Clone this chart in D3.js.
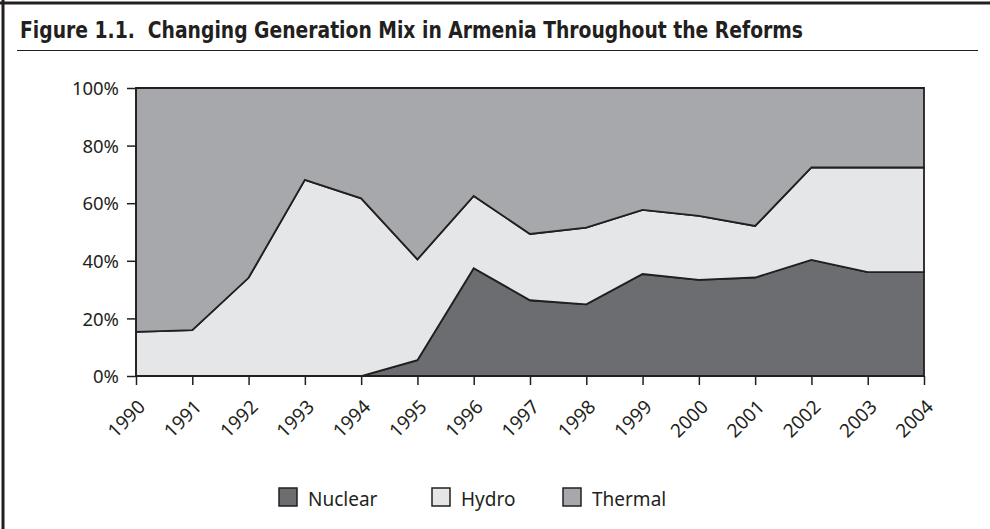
<!DOCTYPE html>
<html>
<head>
<meta charset="utf-8">
<script src="https://cdn.jsdelivr.net/npm/d3@7"></script>
<style>
  body { margin: 0; background: #fff; }
  text { font-family: "Noto Sans", "Open Sans", sans-serif; fill: #231f20; }
</style>
</head>
<body>
<div id="chart"></div>
<script>
// data (shares in %)
let years = [1990, 1991, 1992, 1993, 1994, 1995, 1996, 1997, 1998, 1999, 2000, 2001, 2002, 2003, 2004]
let nuclear = [0, 0, 0, 0, 0, 5.5, 37.4, 26.3, 24.9, 35.4, 33.4, 34.2, 40.3, 36.1, 36.1]
let hydro = [15.3, 15.9, 34.1, 68.1, 61.7, 35.0, 25.1, 23.0, 26.6, 22.3, 22.2, 17.9, 32.1, 36.3, 36.3]
let thermal = [84.7, 84.1, 65.9, 31.9, 38.3, 59.5, 37.5, 50.7, 48.5, 42.3, 44.4, 47.9, 27.6, 27.6, 27.6]
let yTicks = [0, 20, 40, 60, 80, 100]
let seriesNames = ["Nuclear", "Hydro", "Thermal"]
let seriesColors = ["#6c6d71", "#e5e6e8", "#a7a8ac"]

let width = 990, height = 529
let ink = "#231f20"

let svg = d3.select("#chart")
    .append("svg")
        .attr("width", width)
        .attr("height", height)

// frame: top and left rules only
svg.append("line").attr("x1", 0).attr("x2", width).attr("y1", 3).attr("y2", 3)
    .attr("stroke", ink).attr("stroke-width", 3)
svg.append("line").attr("x1", 3).attr("x2", 3).attr("y1", 0).attr("y2", height)
    .attr("stroke", ink).attr("stroke-width", 3)

// title + rule under it
svg.append("text")
    .attr("x", 20)
    .attr("y", 38)
    .attr("textLength", 783)
    .attr("lengthAdjust", "spacingAndGlyphs")
    .style("white-space", "pre")
    .style("font-family", "'Liberation Sans Narrow', 'DejaVu Sans Condensed', sans-serif")
    .style("font-size", "23px")
    .style("font-weight", "bold")
    .text("Figure 1.1.  Changing Generation Mix in Armenia Throughout the Reforms")
svg.append("line").attr("x1", 17).attr("x2", 978).attr("y1", 50.5).attr("y2", 50.5)
    .attr("stroke", ink).attr("stroke-width", 1.2)

// scales
let x = d3.scaleLinear().domain([1990, 2004]).range([136, 924])
let y = d3.scaleLinear().domain([0, 100]).range([376, 88])

let table = years.map((yr, i) => ({year: yr, Nuclear: nuclear[i], Hydro: hydro[i], Thermal: thermal[i]}))
let stacked = d3.stack().keys(seriesNames)(table)

let area = d3.area()
    .x(d => x(d.data.year))
    .y0(d => y(d[0]))
    .y1(d => y(d[1]))

svg.append("g").selectAll("path")
    .data(stacked)
    .enter()
    .append("path")
    .attr("d", area)
    .attr("fill", (d, i) => seriesColors[i])
    .attr("stroke", ink)
    .attr("stroke-width", 1.8)
    .attr("stroke-linejoin", "miter")

// y axis
let yAxis = svg.append("g")
    .attr("transform", "translate(136,0)")
    .call(d3.axisLeft(y).tickValues(yTicks).tickSize(9).tickFormat(d => d + "%"))
yAxis.selectAll("path, line").attr("stroke", ink).attr("stroke-width", 1.5)
yAxis.select(".domain").attr("d", "M0,88V376")
yAxis.selectAll("text")
    .attr("x", -17)
    .attr("dy", "0.36em")
    .style("font-size", "18.5px")
    .attr("fill", ink)

// x axis
let xAxis = svg.append("g")
    .attr("transform", "translate(0,376)")
    .call(d3.axisBottom(x).tickValues(years).tickSize(9).tickFormat(d3.format("d")))
xAxis.select(".domain").remove()
xAxis.selectAll("line").attr("stroke", ink).attr("stroke-width", 1.5)
xAxis.selectAll("text")
    .attr("y", 0)
    .attr("dy", 0)
    .attr("text-anchor", "end")
    .attr("transform", "translate(10,32) rotate(-45)")
    .style("font-size", "19px")
    .attr("fill", ink)

// legend
let legendX = [279, 432, 563]
let legend = svg.append("g").selectAll("g")
    .data(seriesNames)
    .enter()
    .append("g")
    .attr("transform", (d, i) => `translate(${legendX[i]}, 488)`)
legend.append("rect")
    .attr("width", 18)
    .attr("height", 18)
    .attr("fill", (d, i) => seriesColors[i])
    .attr("stroke", ink)
    .attr("stroke-width", 1.5)
legend.append("text")
    .attr("x", 29)
    .attr("y", 18)
    .style("font-size", "19px")
    .text(d => d)
</script>
</body>
</html>
